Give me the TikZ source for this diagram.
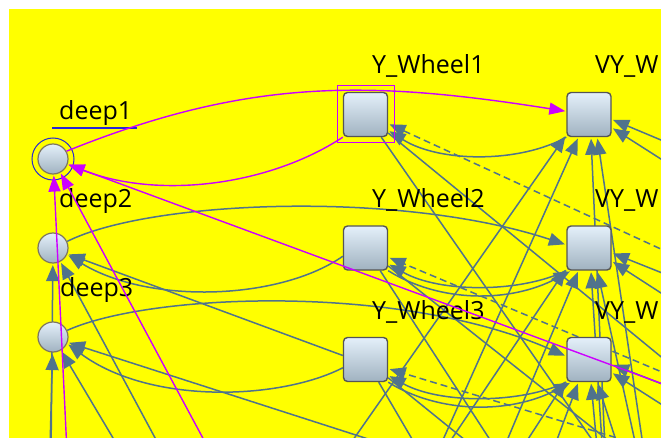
\documentclass[tikz,border=0pt]{standalone}
\usepackage{fontspec}
\setmainfont{Open Sans}
\usetikzlibrary{arrows.meta}
\pgfdeclarelayer{bg}
\pgfdeclarelayer{edges}
\pgfsetlayers{bg,edges,main}
\definecolor{bgyellow}{RGB}{255,255,0}
\definecolor{edgegrey}{RGB}{80,115,140}
\definecolor{selmag}{RGB}{204,0,255}
\definecolor{ringblue}{RGB}{40,40,210}
\definecolor{nodetop}{RGB}{228,240,250}
\definecolor{nodebot}{RGB}{160,178,192}
\definecolor{sqborder}{RGB}{85,85,85}
\definecolor{circborder}{RGB}{125,118,95}
\begin{document}
\begin{tikzpicture}[x=1pt,y=1pt,
 cnode/.style={circle,minimum size=30pt,inner sep=0pt,draw=circborder,line width=1.2pt,top color=nodetop,bottom color=nodebot},
 snode/.style={rectangle,rounded corners=4pt,minimum size=44pt,inner sep=0pt,draw=sqborder,line width=1.4pt,top color=nodetop,bottom color=nodebot},
 lbl/.style={anchor=base west,inner sep=0pt,font=\fontsize{25}{29}\selectfont,text=black},
 ge/.style={draw=edgegrey,line width=1.5pt,-{Triangle[length=16pt,width=13pt]},shorten >=1.5pt},
 gd/.style={ge,dash pattern=on 7pt off 4pt},
 me/.style={draw=selmag,line width=1.4pt,-{Triangle[length=16pt,width=12pt]},shorten >=1pt},
 selbox/.style={rectangle,draw=selmag,line width=1pt,minimum size=57pt,inner sep=0pt},
]
\useasboundingbox (0,0) rectangle (661,-438);
\begin{pgfonlayer}{bg}
\fill[white] (0,0) rectangle (661,-438);
\fill[bgyellow] (9,-9) rectangle (661,-438);
\end{pgfonlayer}

% nodes
\node[cnode] (d1) at (53,-159) {};
\node[cnode] (d2) at (53,-248) {};
\node[cnode] (d3) at (53,-337) {};
\node[snode] (Y1) at (365.5,-114.5) {};
\node[snode] (Y2) at (365.5,-248) {};
\node[snode] (Y3) at (365.5,-359.5) {};
\node[snode] (V1) at (589,-114.5) {};
\node[snode] (V2) at (589,-248) {};
\node[snode] (V3) at (589,-359.5) {};
\node[selbox] (sel) at (Y1) {};

% labels
\node[lbl] (t1) at (59,-120) {deep1};
\node[lbl] (t2) at (59,-208) {deep2};
\node[lbl] (t3) at (60,-297) {deep3};
\node[lbl] (ty1) at (372,-74) {Y\_Wheel1};
\node[lbl] (ty2) at (372,-208) {Y\_Wheel2};
\node[lbl] (ty3) at (372,-319) {Y\_Wheel3};
\node[lbl] (tv1) at (595,-74) {VY\_W};
\node[lbl] (tv2) at (595,-208) {VY\_W};
\node[lbl] (tv3) at (595,-319) {VY\_W};

% selection marks around deep1
\draw[ringblue,line width=1pt] (d1.center) circle[radius=21pt];
\coordinate (ul1) at (52,-128);
\coordinate (ul2) at (137,-128);
\draw[ringblue,line width=1.1pt] (ul1) -- (ul2);

% hidden end points (outside the view)
\coordinate (m3s) at (690,-394);
\coordinate (m4s) at (75,-620);
\coordinate (m5s) at (220,-470);
\coordinate (hd2a) at (175,-475);
\coordinate (hd2b) at (50,-560);
\coordinate (hd3a) at (135,-475);
\coordinate (hd3b) at (47,-560);
\coordinate (hd3c) at (620,-520);
\coordinate (hy1) at (700,-267);
\coordinate (hy2) at (700,-388);
\coordinate (hy3) at (700,-463);
\coordinate (o1a) at (648,-520);
\coordinate (o1b) at (860,-520);
\coordinate (o2a) at (620,-640);
\coordinate (o2b) at (860,-640);
\coordinate (o3a) at (600,-760);
\coordinate (o3b) at (860,-760);
\coordinate (a1) at (325,-480);
\coordinate (a2) at (425,-480);
\coordinate (a3) at (330,-620);
\coordinate (a4) at (440,-600);
\coordinate (a5) at (340,-730);
\coordinate (a6) at (460,-700);
\coordinate (b1a) at (610,-560);
\coordinate (b1b) at (660,-560);
\coordinate (b2a) at (612,-600);
\coordinate (b2b) at (670,-600);
\coordinate (b3a) at (615,-640);
\coordinate (b3b) at (680,-640);
\coordinate (r1a) at (780,-190);
\coordinate (r1b) at (780,-235);
\coordinate (r2a) at (780,-320);
\coordinate (r2b) at (780,-370);
\coordinate (r3a) at (780,-430);
\coordinate (r3b) at (780,-480);

% grey connectors, under the nodes
\begin{pgfonlayer}{edges}
\begin{scope}
\clip (9,-9) rectangle (661,-438);
\draw[ge] (d2.25) .. controls (150,-200) and (400,-190) .. (V2.172);
\draw[ge] (d3.25) .. controls (150,-293) and (400,-283) .. (V3.172);
\draw[ge] (Y2.200) .. controls (280,-300) and (150,-305) .. (d2.-25);
\draw[ge] (Y3.200) .. controls (280,-400) and (150,-405) .. (d3.-25);
\draw[ge] (Y3.170) -- (d2.-22);
\draw[ge] (hd3c) -- (d3.-20);
\draw[ge] (hd2a) -- (d2);
\draw[ge] (hd2b) -- (d2);
\draw[ge] (hd3a) -- (d3);
\draw[ge] (hd3b) -- (d3);
\draw[ge] (V1.south west) .. controls (520,-163) and (440,-163) .. (Y1.-35);
\draw[ge] (V2.south west) .. controls (520,-293) and (440,-293) .. (Y2.-35);
\draw[ge] (V3.south west) .. controls (520,-404) and (440,-404) .. (Y3.-35);
\draw[ge] (Y2.-45) .. controls (440,-303) and (510,-303) .. (V2.-128);
\draw[ge] (Y3.-45) .. controls (440,-414) and (510,-414) .. (V3.-128);
\draw[gd] (hy1) -- (Y1.-22);
\draw[gd] (hy2) -- (Y2.-22);
\draw[gd] (hy3) -- (Y3.-22);
\draw[ge] (Y1) -- (o1a);
\draw[ge] (Y1) -- (o1b);
\draw[ge] (Y2) -- (o2a);
\draw[ge] (Y2) -- (o2b);
\draw[ge] (Y3) -- (o3a);
\draw[ge] (Y3) -- (o3b);
\draw[ge] (a1) -- (V1.-138);
\draw[ge] (a2) -- (V1.-115);
\draw[ge] (a3) -- (V2.-138);
\draw[ge] (a4) -- (V2.-115);
\draw[ge] (a5) -- (V3.-138);
\draw[ge] (a6) -- (V3.-115);
\draw[ge] (b1a) -- (V1.-85);
\draw[ge] (b1b) -- (V1.-70);
\draw[ge] (b2a) -- (V2.-85);
\draw[ge] (b2b) -- (V2.-70);
\draw[ge] (b3a) -- (V3.-85);
\draw[ge] (b3b) -- (V3.-70);
\draw[ge] (r1a) -- (V1.-12);
\draw[ge] (r1b) -- (V1.-30);
\draw[ge] (r2a) -- (V2.-12);
\draw[ge] (r2b) -- (V2.-30);
\draw[ge] (r3a) -- (V3.-12);
\draw[ge] (r3b) -- (V3.-30);
\end{scope}
\end{pgfonlayer}

% selected (magenta) connectors, over the nodes
\begin{scope}
\clip (9,-9) rectangle (661,-438);
\draw[me] (d1.30) .. controls (248,-78) and (368,-80) .. (V1.172);
\draw[me] (Y1.south west) .. controls (270,-185) and (160,-200) .. (d1.-20);
\draw[me] (m3s) -- (d1);
\draw[me] (m4s) -- (d1);
\draw[me] (m5s) -- (d1);
\end{scope}
\end{tikzpicture}
\end{document}
